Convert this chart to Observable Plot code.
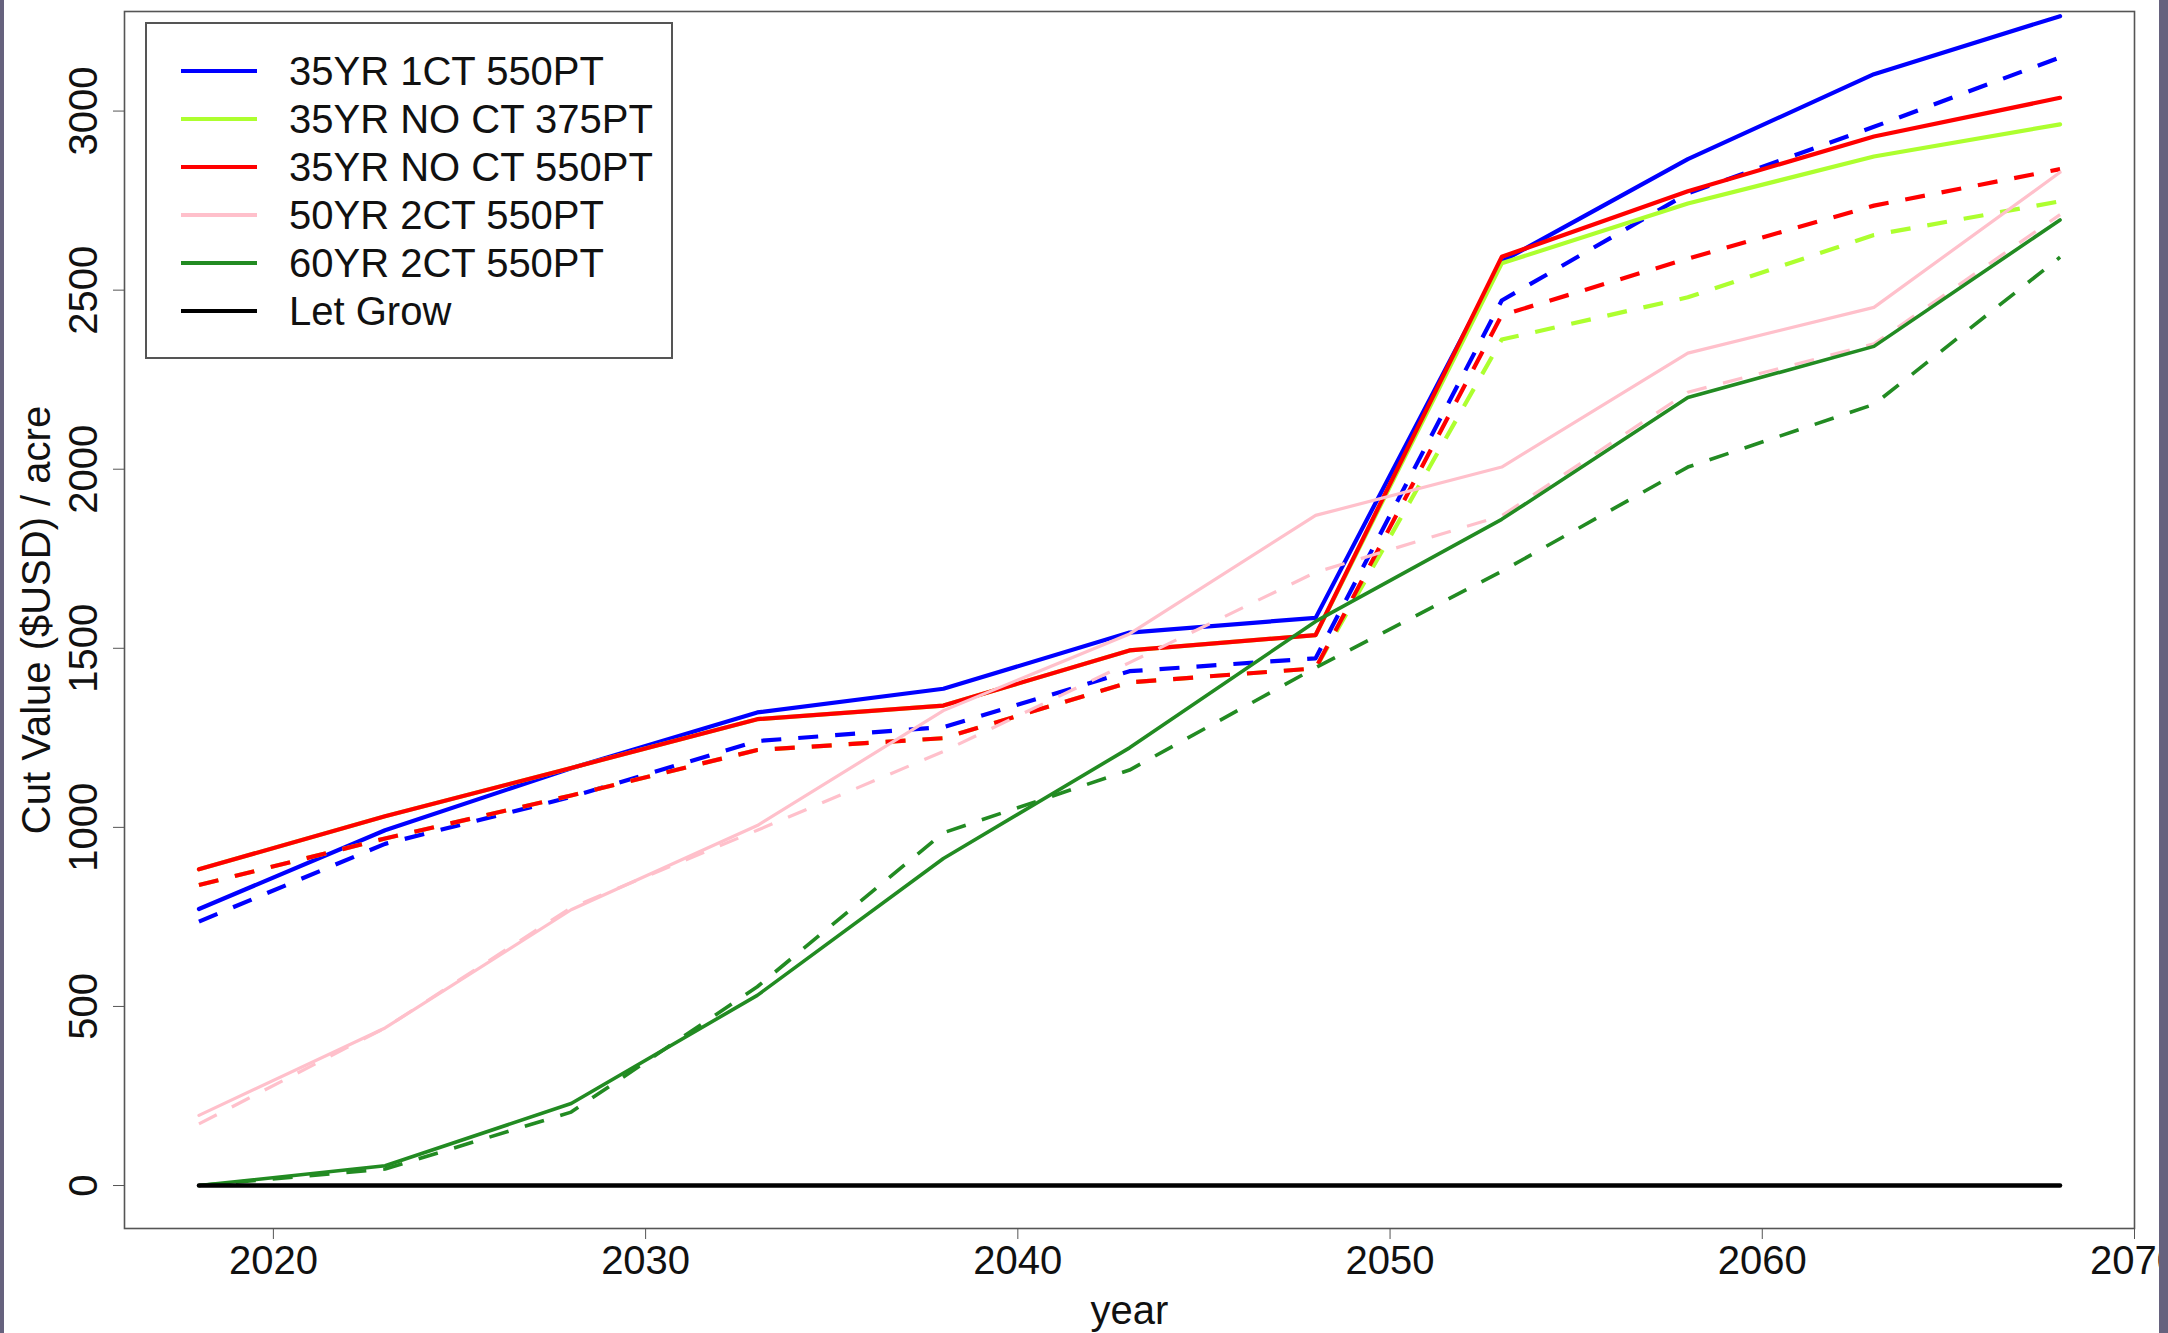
<!DOCTYPE html>
<html><head><meta charset="utf-8">
<script src="https://cdn.jsdelivr.net/npm/d3@7"></script>
<script src="https://cdn.jsdelivr.net/npm/@observablehq/plot@0.6"></script>
<style>
html,body{margin:0;padding:0;background:#66627e;width:2168px;height:1333px;overflow:hidden;}
#wrap{position:absolute;left:4px;top:0;width:2155px;height:1333px;background:#fff;overflow:hidden;}
#legend{position:absolute;left:141px;top:22px;width:524px;height:333px;border:2px solid #555;background:#fff;font-family:"Liberation Sans",Arial,sans-serif;font-size:40px;color:#111;}
.row{position:absolute;left:0;height:48px;width:100%;}
.swatch{position:absolute;left:34px;width:76px;height:4px;top:22px;}
.lab{position:absolute;left:142px;top:0;line-height:48px;white-space:nowrap;}
</style></head>
<body><div id="wrap"><div id="chart"></div><div id="legend"></div></div>
<script>
const years = [2018, 2023, 2028, 2033, 2038, 2043, 2048, 2053, 2058, 2063, 2068];
const seriesNames = ["35YR 1CT 550PT", "35YR NO CT 375PT", "35YR NO CT 550PT", "50YR 2CT 550PT", "60YR 2CT 550PT", "Let Grow"];
const seriesColors = ["#0000ff", "#adff2f", "#ff0000", "#ffc0cb", "#228b22", "#000000"];
const xTicks = [2020, 2030, 2040, 2050, 2060, 2070];
const yTicks = [0, 500, 1000, 1500, 2000, 2500, 3000];

// solid and dashed values per series
const blueSolid   = [772, 992, 1165, 1321, 1387, 1544, 1585, 2580, 2866, 3103, 3265];
const blueDashed  = [737, 954, 1085, 1241, 1280, 1436, 1472, 2471, 2770, 2956, 3150];
const ygSolid     = [883, 1031, 1166, 1302, 1340, 1494, 1537, 2575, 2742, 2873, 2963];
const ygDashed    = [839, 969, 1089, 1216, 1249, 1405, 1444, 2362, 2480, 2654, 2748];
const redSolid    = [883, 1031, 1166, 1302, 1340, 1494, 1537, 2593, 2776, 2929, 3037];
const redDashed   = [839, 969, 1089, 1216, 1249, 1405, 1444, 2430, 2588, 2736, 2838];
const pinkSolid   = [196, 440, 770, 1005, 1326, 1540, 1871, 2006, 2324, 2452, 2829];
const pinkDashed  = [172, 440, 776, 992, 1212, 1460, 1712, 1870, 2215, 2350, 2711];
const greenSolid  = [0, 55, 229, 531, 913, 1222, 1575, 1860, 2200, 2343, 2696];
const greenDashed = [0, 46, 205, 555, 985, 1160, 1446, 1715, 2006, 2181, 2592];
const letGrow     = [0, 0, 0, 0, 0, 0, 0, 0, 0, 0, 0];

const solids  = [blueSolid, ygSolid, redSolid, pinkSolid, greenSolid, letGrow];
const dashes  = [blueDashed, ygDashed, redDashed, pinkDashed, greenDashed, null];
const widths  = [4.2, 4.2, 4.2, 3.2, 3.6, 4.4];

const toRows = (vals) => years.map((yr, i) => ({year: yr, value: vals[i]}));

const marks = [
  Plot.frame({stroke: "#555", strokeWidth: 1.6}),
  Plot.axisX(xTicks, {tickSize: 11, tickPadding: 6, tickFormat: d => String(d), label: null, stroke: "#555", fill: "#111", fontSize: 40}),
  Plot.axisY(yTicks, {tickSize: 11, label: null, stroke: "#555", fill: "none"}),
  Plot.text(yTicks, {y: d => d, text: d => String(d), frameAnchor: "left", dx: -28, rotate: -90, textAnchor: "middle", lineAnchor: "bottom", fontSize: 40, fill: "#111"}),
  Plot.text(["year"], {frameAnchor: "bottom", text: d => d, dy: 95, lineAnchor: "bottom", textAnchor: "middle", fontSize: 40, fill: "#111"}),
  Plot.text(["Cut Value ($USD) / acre"], {frameAnchor: "left", text: d => d, dx: -75, rotate: -90, lineAnchor: "bottom", textAnchor: "middle", fontSize: 40, fill: "#111"})
];
solids.forEach((s, k) => {
  marks.push(Plot.line(toRows(s), {x: "year", y: "value", stroke: seriesColors[k], strokeWidth: widths[k]}));
  if (dashes[k]) marks.push(Plot.line(toRows(dashes[k]), {x: "year", y: "value", stroke: seriesColors[k], strokeWidth: widths[k], strokeDasharray: "20,17", strokeLinecap: "butt"}));
});

const chart = Plot.plot({
  width: 2155, height: 1333,
  marginLeft: 120, marginRight: 25, marginTop: 11, marginBottom: 105,
  style: {fontFamily: "'Liberation Sans', Arial, sans-serif", fontSize: "40px", background: "#fff", color: "#111"},
  x: {domain: [2016, 2070], axis: null},
  y: {domain: [-120, 3278], axis: null},
  marks
});
document.getElementById("chart").appendChild(chart);

const legend = document.getElementById("legend");
seriesNames.forEach((name, k) => {
  const row = document.createElement("div");
  row.className = "row";
  row.style.top = (23 + k * 48) + "px";
  const sw = document.createElement("div");
  sw.className = "swatch";
  sw.style.background = seriesColors[k];
  const lab = document.createElement("div");
  lab.className = "lab";
  lab.textContent = name;
  row.appendChild(sw); row.appendChild(lab);
  legend.appendChild(row);
});
</script>
</body></html>
